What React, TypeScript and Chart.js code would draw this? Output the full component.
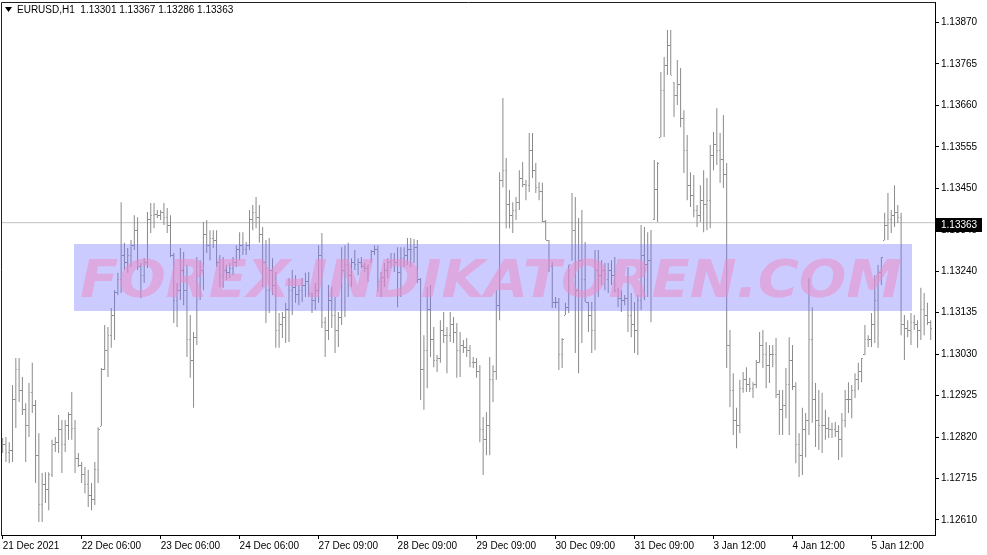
import React, { useEffect, useRef } from 'react';
import Chart from 'chart.js/auto';

const symbolLabel = 'EURUSD,H1';
const headerValues = ['1.13301', '1.13367', '1.13286', '1.13363'];
const currentPrice = 1.13363;
const watermarkText = 'FOREX-INDIKATOREN.COM';

const priceTicks = [1.1261, 1.12715, 1.1282, 1.12925, 1.1303, 1.13135, 1.1324, 1.13345, 1.1345, 1.13555, 1.1366, 1.13765, 1.1387];
const timeTickIndex = [0, 24, 48, 72, 96, 120, 144, 168, 192, 216, 240, 264];
const timeTickLabels = ['21 Dec 2021', '22 Dec 06:00', '23 Dec 06:00', '24 Dec 06:00', '27 Dec 09:00', '28 Dec 09:00', '29 Dec 09:00', '30 Dec 09:00', '31 Dec 09:00', '3 Jan 12:00', '4 Jan 12:00', '5 Jan 12:00'];

const opens = [
  1.12792, 1.128, 1.12782, 1.12787, 1.12914, 1.1299, 1.12939, 1.12889, 1.1285, 1.12934,
  1.12901, 1.12774, 1.12648, 1.12699, 1.12686, 1.12724, 1.128, 1.12807, 1.12838, 1.128,
  1.1285, 1.12876, 1.12843, 1.12767, 1.12749, 1.12724, 1.12699, 1.12673, 1.12661, 1.12737,
  1.12848, 1.1299, 1.1304, 1.13078, 1.13129, 1.13187, 1.13218, 1.13281, 1.13263, 1.13281,
  1.13306, 1.13344, 1.13253, 1.1323, 1.13263, 1.1337, 1.13382, 1.13385, 1.13382, 1.1339,
  1.13375, 1.13357, 1.13281, 1.13167, 1.13192, 1.13243, 1.13192, 1.13066, 1.13015, 1.13071,
  1.1323, 1.13243, 1.13332, 1.13306, 1.13324, 1.13319, 1.13263, 1.1323, 1.13243, 1.13238,
  1.13248, 1.13263, 1.13294, 1.13306, 1.13294, 1.13304, 1.1337, 1.1339, 1.13375, 1.13332,
  1.13263, 1.13192, 1.13243, 1.13205, 1.13091, 1.13104, 1.13122, 1.13142, 1.13192, 1.13198,
  1.1318, 1.13192, 1.13205, 1.13213, 1.1318, 1.13167, 1.13192, 1.13281, 1.13111, 1.13091,
  1.13167, 1.13129, 1.13091, 1.13122, 1.13243, 1.13256, 1.1323, 1.13263, 1.13256, 1.13263,
  1.13253, 1.13248, 1.13263, 1.13289, 1.13294, 1.13213, 1.13223, 1.13243, 1.13263, 1.13268,
  1.13263, 1.13238, 1.13273, 1.13281, 1.13294, 1.13294, 1.13299, 1.13218, 1.1299, 1.1304,
  1.13142, 1.13066, 1.13015, 1.1302, 1.13091, 1.13078, 1.13078, 1.13104, 1.13086, 1.1304,
  1.13053, 1.13048, 1.1304, 1.1301, 1.1301, 1.12985, 1.12838, 1.12813, 1.1285, 1.12965,
  1.12985, 1.13154, 1.13471, 1.13496, 1.13408, 1.13382, 1.13395, 1.13413, 1.13476, 1.13461,
  1.13456, 1.13547, 1.13496, 1.13451, 1.13441, 1.13367, 1.13319, 1.13251, 1.13162, 1.1316,
  1.13028, 1.13129, 1.13147, 1.13268, 1.13344, 1.13192, 1.13268, 1.13218, 1.13162, 1.13129,
  1.13091, 1.13243, 1.1323, 1.13243, 1.13218, 1.13243, 1.1323, 1.13192, 1.13172, 1.13167,
  1.13172, 1.13129, 1.13104, 1.13091, 1.13167, 1.13281, 1.13256, 1.13268, 1.1337, 1.13446,
  1.1358, 1.13699, 1.13762, 1.13813, 1.13719, 1.13686, 1.13712, 1.13628, 1.13547, 1.13458,
  1.13433, 1.13395, 1.13382, 1.1342, 1.13408, 1.1342, 1.13534, 1.1356, 1.13547, 1.13522,
  1.13484, 1.13053, 1.12939, 1.12863, 1.1285, 1.12944, 1.12965, 1.12952, 1.12944, 1.12952,
  1.1301, 1.13053, 1.13028, 1.13002, 1.13028, 1.13028, 1.12929, 1.12889, 1.12901, 1.12952,
  1.13015, 1.12949, 1.128, 1.12774, 1.12838, 1.12863, 1.13066, 1.12914, 1.12863, 1.1285,
  1.1285, 1.12843, 1.12838, 1.12838, 1.12833, 1.12813, 1.12863, 1.12914, 1.12914, 1.12939,
  1.12965, 1.12985, 1.13028, 1.13066, 1.13066, 1.13104, 1.13167, 1.13238, 1.13319, 1.13357,
  1.1337, 1.13382, 1.1339, 1.13375, 1.13104, 1.13096, 1.13091, 1.13111, 1.13104, 1.13091,
  1.13142, 1.13129, 1.13111,
];

const highs = [
  1.12818, 1.1282, 1.12807, 1.12952, 1.1302, 1.1302, 1.12972, 1.12906, 1.12957, 1.13008,
  1.12914, 1.1283, 1.12729, 1.12731, 1.12731, 1.12813, 1.1282, 1.12876, 1.12863, 1.12863,
  1.12883, 1.12934, 1.12863, 1.1278, 1.12757, 1.12744, 1.12737, 1.12704, 1.12757, 1.12845,
  1.12995, 1.13104, 1.13099, 1.13147, 1.13192, 1.13236, 1.13415, 1.13312, 1.13299, 1.13319,
  1.13382, 1.13377, 1.13261, 1.13273, 1.1339, 1.13413, 1.13413, 1.13395, 1.13395, 1.13413,
  1.134, 1.13382, 1.13286, 1.1321, 1.13299, 1.13289, 1.13256, 1.13129, 1.13086, 1.13276,
  1.13268, 1.13365, 1.1337, 1.13344, 1.13344, 1.13344, 1.13281, 1.13276, 1.13256, 1.13261,
  1.13276, 1.13306, 1.13339, 1.13339, 1.13314, 1.13395, 1.13408, 1.13428, 1.13408, 1.13352,
  1.13319, 1.13324, 1.13273, 1.13238, 1.13134, 1.13137, 1.1316, 1.13223, 1.13243, 1.1323,
  1.13205, 1.13223, 1.13236, 1.13238, 1.13187, 1.1321, 1.13306, 1.13337, 1.13124, 1.13205,
  1.132, 1.13175, 1.13137, 1.13301, 1.13306, 1.13312, 1.13273, 1.13294, 1.13273, 1.13276,
  1.13261, 1.13256, 1.13294, 1.13306, 1.13306, 1.13238, 1.13261, 1.13273, 1.13286, 1.13286,
  1.13301, 1.13301, 1.13301, 1.13324, 1.13324, 1.13322, 1.13319, 1.13223, 1.13078, 1.132,
  1.13205, 1.13099, 1.13028, 1.13116, 1.13137, 1.13099, 1.13137, 1.13124, 1.13109, 1.13086,
  1.13066, 1.13071, 1.13053, 1.13023, 1.1302, 1.13002, 1.12871, 1.12883, 1.13023, 1.13002,
  1.13192, 1.13491, 1.13679, 1.13527, 1.13446, 1.13415, 1.13428, 1.13496, 1.13517, 1.13471,
  1.1359, 1.1359, 1.13514, 1.13466, 1.13464, 1.1337, 1.13319, 1.13263, 1.13175, 1.13172,
  1.13071, 1.1316, 1.13256, 1.13438, 1.13428, 1.13375, 1.13395, 1.13314, 1.13162, 1.13162,
  1.13294, 1.13294, 1.13268, 1.13261, 1.13261, 1.13268, 1.13276, 1.13198, 1.13192, 1.1318,
  1.13251, 1.13185, 1.13162, 1.1318, 1.13357, 1.13352, 1.13339, 1.13344, 1.13522, 1.13517,
  1.13745, 1.13783, 1.13851, 1.13851, 1.13719, 1.13775, 1.13755, 1.13648, 1.13585, 1.13491,
  1.13484, 1.13408, 1.13458, 1.13496, 1.13476, 1.1356, 1.13593, 1.13653, 1.1359, 1.13636,
  1.13514, 1.13091, 1.12982, 1.12894, 1.12965, 1.12985, 1.12997, 1.1297, 1.12959, 1.13015,
  1.13086, 1.13091, 1.13061, 1.13053, 1.13053, 1.13071, 1.12939, 1.12939, 1.12995, 1.13073,
  1.13053, 1.12959, 1.1283, 1.12894, 1.12881, 1.13223, 1.13149, 1.12957, 1.12939, 1.12932,
  1.12889, 1.12871, 1.12856, 1.12858, 1.1285, 1.12881, 1.12939, 1.12959, 1.12952, 1.12982,
  1.13008, 1.1302, 1.13104, 1.13078, 1.13134, 1.1323, 1.13256, 1.13276, 1.13388, 1.13438,
  1.13395, 1.13458, 1.13408, 1.13388, 1.13129, 1.13116, 1.13134, 1.13129, 1.13116, 1.13198,
  1.13185, 1.1316, 1.13116,
];

const lows = [
  1.1278, 1.12757, 1.12754, 1.12757, 1.12843, 1.12909, 1.12876, 1.12757, 1.1282, 1.12881,
  1.12704, 1.12605, 1.12605, 1.12653, 1.12635, 1.12719, 1.12782, 1.1278, 1.12729, 1.12782,
  1.12813, 1.12813, 1.12729, 1.12744, 1.12704, 1.12678, 1.12643, 1.12635, 1.12648, 1.12704,
  1.12848, 1.1299, 1.12972, 1.13046, 1.13066, 1.1318, 1.13185, 1.13243, 1.13236, 1.13251,
  1.13294, 1.13243, 1.13172, 1.1321, 1.13248, 1.13337, 1.13349, 1.13375, 1.1337, 1.13357,
  1.13337, 1.13276, 1.13109, 1.13099, 1.13167, 1.13154, 1.13023, 1.1297, 1.12894, 1.13053,
  1.13167, 1.13192, 1.13286, 1.13268, 1.13299, 1.13251, 1.132, 1.13198, 1.13218, 1.13223,
  1.1323, 1.13251, 1.13268, 1.13281, 1.13281, 1.13294, 1.13344, 1.13349, 1.13312, 1.132,
  1.13109, 1.13134, 1.1318, 1.13046, 1.13046, 1.13071, 1.13058, 1.13061, 1.13129, 1.1316,
  1.13154, 1.13162, 1.13175, 1.13175, 1.13134, 1.13142, 1.1316, 1.13096, 1.13023, 1.13066,
  1.13096, 1.13033, 1.13048, 1.13104, 1.13124, 1.13175, 1.132, 1.13243, 1.1323, 1.13248,
  1.13238, 1.13213, 1.13263, 1.13281, 1.13187, 1.13175, 1.132, 1.13223, 1.13248, 1.13238,
  1.13149, 1.13175, 1.13251, 1.13256, 1.13251, 1.13261, 1.1321, 1.12914, 1.12889, 1.12944,
  1.13023, 1.12997, 1.12985, 1.13008, 1.13058, 1.12982, 1.13061, 1.13058, 1.1297, 1.12972,
  1.13033, 1.13023, 1.12997, 1.12995, 1.1297, 1.12807, 1.12724, 1.12774, 1.12774, 1.12909,
  1.12965, 1.13116, 1.13453, 1.13349, 1.13349, 1.13337, 1.1337, 1.13395, 1.13453, 1.1342,
  1.13441, 1.13476, 1.13438, 1.1342, 1.13365, 1.13319, 1.13238, 1.13147, 1.13147, 1.1299,
  1.12995, 1.13129, 1.13134, 1.13268, 1.13033, 1.12982, 1.13058, 1.13162, 1.13086, 1.13033,
  1.1304, 1.13175, 1.13205, 1.13192, 1.13185, 1.13205, 1.13187, 1.13149, 1.13137, 1.13154,
  1.13086, 1.13073, 1.13033, 1.13028, 1.13142, 1.13167, 1.13175, 1.13111, 1.1337, 1.13365,
  1.1358, 1.1358, 1.13737, 1.13737, 1.13631, 1.13661, 1.13605, 1.13489, 1.1342, 1.13403,
  1.13377, 1.13352, 1.13365, 1.13339, 1.13344, 1.13349, 1.13496, 1.13509, 1.13464, 1.13451,
  1.12995, 1.12896, 1.12825, 1.12792, 1.1283, 1.12932, 1.12934, 1.12934, 1.12919, 1.12944,
  1.13008, 1.12995, 1.12944, 1.12957, 1.12997, 1.12919, 1.12825, 1.12825, 1.12868, 1.12825,
  1.12939, 1.12754, 1.12719, 1.12724, 1.12769, 1.12825, 1.12856, 1.12795, 1.12787, 1.1278,
  1.12813, 1.12818, 1.12818, 1.1282, 1.12762, 1.12769, 1.12845, 1.12881, 1.12868, 1.12919,
  1.12939, 1.12959, 1.13028, 1.13048, 1.13048, 1.13058, 1.13046, 1.13205, 1.13319, 1.13319,
  1.13337, 1.13352, 1.13362, 1.13078, 1.13015, 1.13073, 1.13053, 1.13091, 1.13046, 1.13066,
  1.13078, 1.13104, 1.13066,
];

const closes = [
  1.128, 1.12782, 1.12787, 1.12914, 1.1299, 1.12939, 1.12889, 1.1285, 1.12934, 1.12901,
  1.12774, 1.12648, 1.12699, 1.12686, 1.12724, 1.128, 1.12807, 1.12838, 1.128, 1.1285,
  1.12876, 1.12843, 1.12767, 1.12749, 1.12724, 1.12699, 1.12673, 1.12661, 1.12737, 1.12838,
  1.1299, 1.1304, 1.13078, 1.13129, 1.13187, 1.13218, 1.13281, 1.13263, 1.13281, 1.13306,
  1.13344, 1.13253, 1.1323, 1.13263, 1.1337, 1.13382, 1.13385, 1.13382, 1.1339, 1.13375,
  1.13357, 1.13281, 1.13167, 1.13192, 1.13243, 1.13192, 1.13066, 1.13015, 1.13071, 1.1323,
  1.13243, 1.13332, 1.13306, 1.13324, 1.13319, 1.13263, 1.1323, 1.13243, 1.13238, 1.13248,
  1.13263, 1.13294, 1.13306, 1.13294, 1.13304, 1.1337, 1.1339, 1.13375, 1.13332, 1.13263,
  1.13192, 1.13243, 1.13205, 1.13091, 1.13104, 1.13122, 1.13142, 1.13192, 1.13198, 1.1318,
  1.13192, 1.13205, 1.13213, 1.1318, 1.13167, 1.13192, 1.13281, 1.13111, 1.13091, 1.13167,
  1.13129, 1.13091, 1.13122, 1.13243, 1.13256, 1.1323, 1.13263, 1.13256, 1.13263, 1.13253,
  1.13248, 1.13256, 1.13289, 1.13294, 1.13213, 1.13223, 1.13243, 1.13263, 1.13268, 1.13263,
  1.13238, 1.13273, 1.13281, 1.13294, 1.13294, 1.13299, 1.13218, 1.1299, 1.1304, 1.13142,
  1.13066, 1.13015, 1.1302, 1.13091, 1.13078, 1.13078, 1.13104, 1.13086, 1.1304, 1.13053,
  1.13048, 1.1304, 1.1301, 1.1301, 1.12985, 1.12838, 1.12813, 1.1285, 1.12965, 1.12985,
  1.13154, 1.13471, 1.13496, 1.13408, 1.13382, 1.13395, 1.13413, 1.13476, 1.13461, 1.13456,
  1.13547, 1.13496, 1.13451, 1.13441, 1.13367, 1.13319, 1.13251, 1.13162, 1.1316, 1.13028,
  1.13066, 1.13147, 1.13256, 1.13344, 1.13192, 1.13268, 1.13218, 1.13162, 1.13129, 1.13091,
  1.13243, 1.1323, 1.13243, 1.13218, 1.13243, 1.1323, 1.13192, 1.13172, 1.13167, 1.13172,
  1.13129, 1.13104, 1.13091, 1.13167, 1.13281, 1.13256, 1.13268, 1.13344, 1.13446, 1.13514,
  1.13699, 1.13762, 1.13813, 1.13737, 1.13686, 1.13712, 1.13628, 1.13547, 1.13458, 1.13433,
  1.13395, 1.13382, 1.1342, 1.13408, 1.1342, 1.13534, 1.1356, 1.13547, 1.13522, 1.13484,
  1.13053, 1.12939, 1.12863, 1.1285, 1.12944, 1.12965, 1.12952, 1.12944, 1.12952, 1.1301,
  1.13053, 1.13028, 1.13002, 1.13028, 1.13028, 1.12929, 1.12889, 1.12901, 1.12952, 1.13015,
  1.12949, 1.128, 1.12774, 1.12838, 1.12863, 1.13066, 1.12914, 1.12863, 1.1285, 1.1285,
  1.12843, 1.12838, 1.12838, 1.12833, 1.12813, 1.12863, 1.12914, 1.12914, 1.12939, 1.12965,
  1.12985, 1.1302, 1.13066, 1.13066, 1.13104, 1.13167, 1.13238, 1.13276, 1.13357, 1.1337,
  1.13382, 1.1339, 1.13375, 1.13104, 1.13096, 1.13091, 1.13111, 1.13104, 1.13091, 1.13142,
  1.13129, 1.13111, 1.13096,
];

const X_MIN = -0.2;
const X_MAX = 283.3;
const Y_MIN = 1.12572;
const Y_MAX = 1.13922;

const BAR_COLOR = '#8a8a8a';
const AXIS_FONT = 'Liberation Sans';

function makeTick(side: 'left' | 'right', color: string): HTMLCanvasElement {
  const c = document.createElement('canvas');
  c.width = 3;
  c.height = 1;
  const g = c.getContext('2d');
  if (g) {
    g.fillStyle = color;
    g.fillRect(side === 'left' ? 0 : 2, 0, 1, 1);
  }
  return c;
}

export default function App() {
  const ref = useRef<HTMLCanvasElement | null>(null);

  useEffect(() => {
    const canvas = ref.current;
    if (!canvas) return;
    const openTick = makeTick('left', BAR_COLOR);
    const closeTick = makeTick('right', BAR_COLOR);

    const overlayPlugin = {
      id: 'mtOverlay',
      afterDatasetsDraw(chart: any) {
        const ctx = chart.ctx as CanvasRenderingContext2D;
        const area = chart.chartArea;
        ctx.save();
        const rx = area.left + 72;
        const ry = area.top + 242;
        const rw = 838;
        const rh = 67;
        ctx.fillStyle = 'rgba(110,110,255,0.36)';
        ctx.fillRect(rx, ry, rw, rh);
        ctx.font = 'italic bold 52px "DejaVu Sans"';
        ctx.textBaseline = 'alphabetic';
        ctx.textAlign = 'left';
        const m = ctx.measureText(watermarkText);
        const target = 822;
        const sx = target / m.width;
        ctx.translate(area.left + 78, area.top + 295);
        ctx.scale(sx, 1);
        ctx.fillStyle = 'rgba(235,140,200,0.55)';
        ctx.fillText(watermarkText, 0, 0);
        ctx.restore();
      },
      afterDraw(chart: any) {
        const ctx = chart.ctx as CanvasRenderingContext2D;
        const area = chart.chartArea;
        ctx.save();
        ctx.strokeStyle = '#202020';
        ctx.lineWidth = 1;
        ctx.beginPath();
        ctx.moveTo(area.left - 0.5, area.bottom + 1);
        ctx.lineTo(area.left - 0.5, area.top + 0.5);
        ctx.lineTo(area.right + 0.5, area.top + 0.5);
        ctx.stroke();
        ctx.fillStyle = '#000';
        ctx.beginPath();
        ctx.moveTo(area.left + 3, area.top + 5);
        ctx.lineTo(area.left + 10, area.top + 5);
        ctx.lineTo(area.left + 6.5, area.top + 10);
        ctx.closePath();
        ctx.fill();
        ctx.font = `10px "${AXIS_FONT}"`;
        ctx.textBaseline = 'middle';
        ctx.textAlign = 'left';
        ctx.fillText(symbolLabel + '  ' + headerValues.join(' '), area.left + 15, area.top + 8);
        const yp = chart.scales.y.getPixelForValue(currentPrice);
        ctx.fillStyle = '#000';
        ctx.fillRect(area.right + 1, Math.round(yp) - 5, 46, 14);
        ctx.fillStyle = '#fff';
        ctx.font = `10px "${AXIS_FONT}"`;
        ctx.fillText(currentPrice.toFixed(5), area.right + 6, Math.round(yp) + 2);
        ctx.restore();
      },
    };

    const chart = new Chart(canvas, {
      type: 'bar',
      data: {
        datasets: [
          {
            type: 'line',
            label: 'bid',
            data: [
              { x: X_MIN, y: currentPrice },
              { x: X_MAX, y: currentPrice },
            ],
            borderColor: '#c0c0c0',
            borderWidth: 1,
            pointRadius: 0,
            pointHoverRadius: 0,
            order: 10,
          } as any,
          {
            type: 'bar',
            label: 'range',
            data: highs.map((h, i) => ({ x: i, y: [lows[i], h] })),
            backgroundColor: BAR_COLOR,
            borderWidth: 0,
            barThickness: 1,
            inflateAmount: 0,
            grouped: false,
            order: 3,
          } as any,
          {
            type: 'line',
            label: 'open',
            data: opens.map((v, i) => ({ x: i, y: v })),
            showLine: false,
            pointStyle: openTick,
            pointRadius: 1,
            pointHoverRadius: 1,
            order: 2,
          } as any,
          {
            type: 'line',
            label: 'close',
            data: closes.map((v, i) => ({ x: i, y: v })),
            showLine: false,
            pointStyle: closeTick,
            pointRadius: 1,
            pointHoverRadius: 1,
            order: 1,
          } as any,
        ],
      },
      options: {
        animation: false,
        responsive: true,
        maintainAspectRatio: false,
        events: [],
        layout: { autoPadding: false, padding: { left: 2, top: 2, right: 0, bottom: 0 } },
        plugins: {
          legend: { display: false },
          tooltip: { enabled: false },
          title: { display: false },
        },
        scales: {
          x: {
            type: 'linear',
            min: X_MIN,
            max: X_MAX,
            offset: false,
            afterBuildTicks: (s: any) => {
              s.ticks = timeTickIndex.map((v) => ({ value: v }));
            },
            afterFit: (s: any) => {
              s.height = 20;
              s.paddingLeft = 0;
              s.paddingRight = 0;
            },
            ticks: {
              autoSkip: false,
              maxRotation: 0,
              minRotation: 0,
              align: 'start',
              padding: 1,
              color: '#000',
              font: { family: AXIS_FONT, size: 10 },
              callback: (v: any) => {
                const k = timeTickIndex.indexOf(Number(v));
                return k >= 0 ? timeTickLabels[k] : '';
              },
            },
            grid: {
              offset: false,
              drawOnChartArea: false,
              drawTicks: true,
              tickLength: 4,
              color: '#000',
              tickColor: '#000',
            },
            border: { display: true, color: '#000', width: 1 },
          },
          y: {
            type: 'linear',
            position: 'right',
            min: Y_MIN,
            max: Y_MAX,
            afterBuildTicks: (s: any) => {
              s.ticks = priceTicks.map((v) => ({ value: v }));
            },
            afterFit: (s: any) => {
              s.width = 52;
              s.paddingTop = 0;
              s.paddingBottom = 0;
            },
            ticks: {
              padding: 2,
              color: '#000',
              font: { family: AXIS_FONT, size: 10 },
              callback: (v: any) => Number(v).toFixed(5),
            },
            grid: {
              drawOnChartArea: false,
              drawTicks: true,
              tickLength: 4,
              color: '#000',
              tickColor: '#000',
            },
            border: { display: true, color: '#000', width: 1 },
          },
        },
      } as any,
      plugins: [overlayPlugin],
    });

    return () => {
      chart.destroy();
    };
  }, []);

  return (
    <div style={{ position: 'fixed', left: 0, top: 0, width: 987, height: 555, background: '#fff' }}>
      <canvas ref={ref} />
    </div>
  );
}
